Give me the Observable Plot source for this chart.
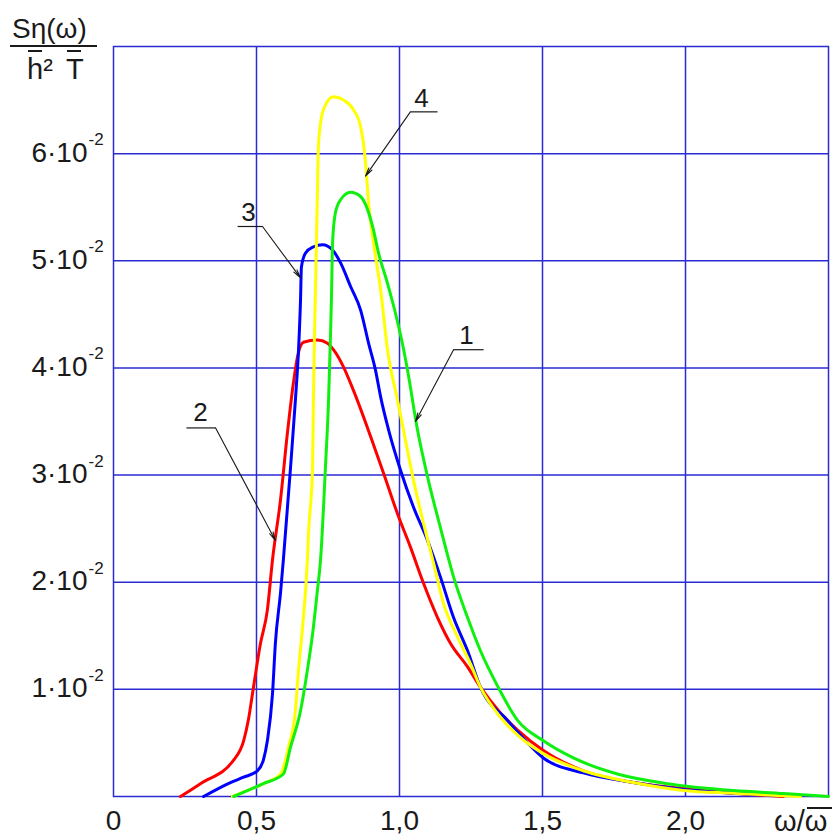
<!DOCTYPE html>
<html>
<head>
<meta charset="utf-8">
<script src="https://cdn.jsdelivr.net/npm/d3@7"></script>
<script src="https://cdn.jsdelivr.net/npm/@observablehq/plot@0.6"></script>
<style>
  html, body { margin: 0; padding: 0; background: #fff; }
  #wrap { position: relative; width: 834px; height: 837px; font-family: "Liberation Sans", Arial, sans-serif; color: #1a1a1a; }
  #wrap svg { display: block; }
  .ov { position: absolute; line-height: 1; white-space: nowrap; }
  .bar { position: absolute; background: #1a1a1a; }
</style>
</head>
<body>
<div id="wrap">
  <div id="chart"></div>
  <!-- y-axis title: Sη(ω) / (h̄² T̄) -->
  <span class="ov" style="left:12px; top:15px; font-size:28px;">Sη(ω)</span>
  <div class="bar" style="left:10px; top:45px; width:87px; height:2px;"></div>
  <span class="ov" style="left:27px; top:55px; font-size:29px;">h²</span>
  <div class="bar" style="left:28px; top:50px; width:14px; height:2px;"></div>
  <span class="ov" style="left:66px; top:55px; font-size:29px;">T</span>
  <div class="bar" style="left:67px; top:50px; width:14px; height:2px;"></div>
  <!-- x-axis title: ω/ω̄ -->
  <span class="ov" style="left:774px; top:807px; font-size:29px;">ω/ω</span>
  <div class="bar" style="left:807px; top:807px; width:25px; height:2px;"></div>
</div>
<script>
// ---- tick values and labels ----
const xTicks = [0, 0.5, 1.0, 1.5, 2.0];
const xTickLabels = ["0", "0,5", "1,0", "1,5", "2,0"];
const yTicks = [1, 2, 3, 4, 5, 6];              // in units of 10^-2
const yTickLabels = ["1·10", "2·10", "3·10", "4·10", "5·10", "6·10"];
const yTickExp = "-2";

// ---- curve 1 (green) ----
const c1x = [0.420,0.524,0.594,0.619,0.654,0.678,0.699,0.712,0.724,0.741,0.752,0.759,0.762,0.766,0.776,0.794,0.829,0.864,0.888,0.906,0.927,0.958,0.986,1.010,1.028,1.063,1.101,1.143,1.189,1.238,1.283,1.343,1.413,1.503,1.608,1.762,1.937,2.168,2.343,2.500];
const c1y = [0,0.12,0.21,0.46,0.80,1.18,1.58,1.90,2.21,3.07,3.70,4.33,4.64,5.17,5.45,5.57,5.64,5.60,5.48,5.32,5.07,4.79,4.51,4.23,3.98,3.42,2.95,2.51,2.05,1.67,1.36,1.03,0.71,0.52,0.36,0.21,0.12,0.056,0.028,0];

// ---- curve 2 (red) ----
const c2x = [0.234,0.304,0.420,0.455,0.472,0.486,0.514,0.538,0.556,0.584,0.608,0.629,0.643,0.664,0.713,0.748,0.769,0.804,0.839,0.899,0.944,0.993,1.038,1.084,1.133,1.178,1.238,1.283,1.353,1.413,1.503,1.643,1.818,1.993,2.168,2.343];
const c2y = [0,0.12,0.34,0.52,0.72,0.96,1.43,1.74,2.21,2.77,3.39,3.86,4.10,4.24,4.26,4.23,4.17,4.01,3.79,3.36,3.02,2.64,2.33,1.99,1.67,1.43,1.21,1.02,0.78,0.62,0.43,0.24,0.13,0.075,0.03,0];

// ---- curve 3 (blue) ----
const c3x = [0.315,0.409,0.455,0.503,0.524,0.538,0.556,0.566,0.584,0.594,0.619,0.636,0.647,0.654,0.657,0.671,0.699,0.731,0.766,0.794,0.829,0.864,0.892,0.916,0.934,0.962,1.003,1.049,1.098,1.143,1.189,1.238,1.283,1.378,1.448,1.503,1.643,1.818,1.993,2.168,2.343];
const c3y = [0,0.13,0.18,0.24,0.34,0.52,0.96,1.43,1.90,2.21,3.07,3.70,4.17,4.64,4.94,5.07,5.13,5.15,5.10,4.98,4.76,4.54,4.23,3.98,3.73,3.42,3.05,2.70,2.39,2.05,1.67,1.36,1.02,0.71,0.50,0.36,0.22,0.13,0.065,0.03,0.01];

// ---- curve 4 (yellow) ----
const c4x = [0.416,0.444,0.524,0.584,0.612,0.636,0.647,0.661,0.678,0.682,0.696,0.699,0.703,0.706,0.713,0.717,0.734,0.769,0.804,0.839,0.864,0.878,0.885,0.892,0.909,0.934,0.958,0.993,1.014,1.049,1.084,1.119,1.154,1.203,1.248,1.283,1.353,1.423,1.503,1.643,1.818,1.993,2.168,2.402];
const c4y = [0,0.03,0.12,0.21,0.46,0.80,1.18,1.58,2.21,2.46,3.07,3.70,4.33,4.70,5.64,6.10,6.41,6.53,6.50,6.41,6.25,6.01,5.79,5.54,5.17,4.73,4.17,3.70,3.42,2.95,2.55,2.18,1.80,1.49,1.24,1.02,0.74,0.55,0.40,0.24,0.13,0.056,0.03,0];

// ---- curve number callouts ----
const calloutNames = ["1", "2", "3", "4"];
const calloutX = [1.234, 0.304, 0.472, 1.077];
const calloutY = [4.30, 3.58, 5.45, 6.51];
const underX1 = [1.189, 0.255, 0.434, 1.038];
const underX2 = [1.294, 0.357, 0.521, 1.133];
const underY = [4.17, 3.44, 5.32, 6.39];
const leaderX1 = [1.189, 0.357, 0.521, 1.038];
const leaderY1 = [4.17, 3.44, 5.32, 6.39];
const leaderX2 = [1.056, 0.566, 0.654, 0.881];
const leaderY2 = [3.50, 2.39, 4.84, 5.79];

// ---- build tables ----
const series = (xs, ys) => xs.map((x, i) => ({x, y: ys[i]}));
const s1 = series(c1x, c1y), s2 = series(c2x, c2y), s3 = series(c3x, c3y), s4 = series(c4x, c4y);
const callouts = calloutNames.map((t, i) => ({
  t, x: calloutX[i], y: calloutY[i],
  ux1: underX1[i], ux2: underX2[i], uy: underY[i],
  lx1: leaderX1[i], ly1: leaderY1[i], lx2: leaderX2[i], ly2: leaderY2[i]
}));
const xt = xTicks.map((v, i) => ({v, label: xTickLabels[i]}));
const yt = yTicks.map((v, i) => ({v, label: yTickLabels[i]}));

const GRID = "#2b2bd4";
const INK = "#1a1a1a";
const lineOpts = {x: "x", y: "y", strokeWidth: 3, curve: "monotone-x", strokeLinejoin: "round", strokeLinecap: "round"};

const chart = Plot.plot({
  width: 834,
  height: 837,
  marginLeft: 113,
  marginRight: 6,
  marginTop: 46,
  marginBottom: 41,
  x: {domain: [0, 2.5], axis: null},
  y: {domain: [0, 7], axis: null},
  style: {fontFamily: "'Liberation Sans', Arial, sans-serif", background: "white", color: INK},
  marks: [
    Plot.ruleX(xTicks.slice(1), {stroke: GRID, strokeWidth: 1.5}),
    Plot.ruleY(yTicks, {stroke: GRID, strokeWidth: 1.5}),
    Plot.frame({stroke: GRID, strokeWidth: 1.5}),
    Plot.line(s2, {...lineOpts, stroke: "#ff0000"}),
    Plot.line(s3, {...lineOpts, stroke: "#0000ff"}),
    Plot.line(s4, {...lineOpts, stroke: "#ffff00"}),
    Plot.line(s1, {...lineOpts, stroke: "#10f010"}),
    // callouts
    Plot.link(callouts, {x1: "ux1", x2: "ux2", y1: "uy", y2: "uy", stroke: INK, strokeWidth: 1.2}),
    Plot.arrow(callouts, {x1: "lx1", y1: "ly1", x2: "lx2", y2: "ly2", stroke: INK, strokeWidth: 1.1, headLength: 12, headAngle: 25}),
    Plot.text(callouts, {x: "x", y: "y", text: "t", fontSize: 26, fill: INK, lineAnchor: "middle"}),
    // y tick labels
    Plot.text(yt, {y: "v", text: "label", frameAnchor: "left", textAnchor: "end", dx: -26, dy: -1, fontSize: 28, fill: INK, lineAnchor: "middle"}),
    Plot.text(yt, {y: "v", text: () => yTickExp, frameAnchor: "left", textAnchor: "start", dx: -25, dy: -14, fontSize: 17, fill: INK, lineAnchor: "middle"}),
    // x tick labels
    Plot.text(xt, {x: "v", text: "label", frameAnchor: "bottom", dy: 25, fontSize: 28, fill: INK, lineAnchor: "middle"})
  ]
});
document.getElementById("chart").appendChild(chart);
</script>
</body>
</html>
